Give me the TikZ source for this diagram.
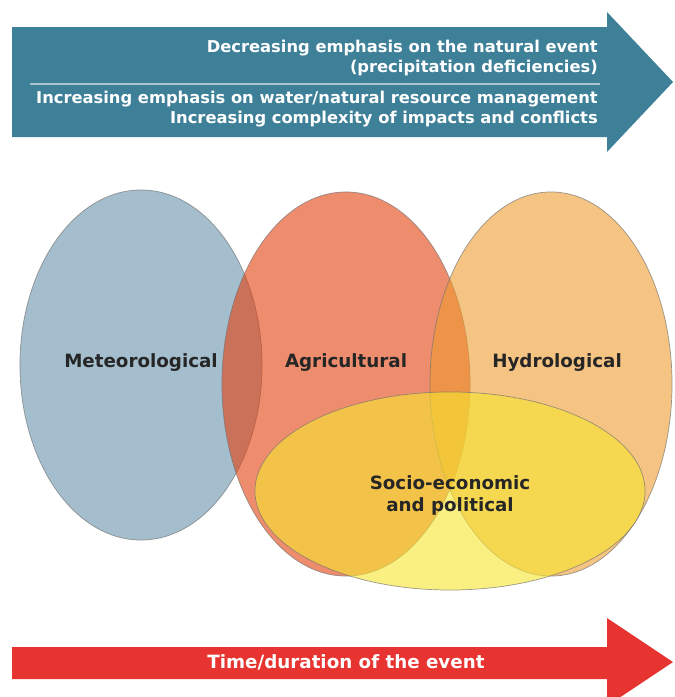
\documentclass[tikz,border=0pt]{standalone}
\usepackage{fontspec}
\setsansfont{DejaVu Sans}
\usetikzlibrary{shapes.geometric}

\definecolor{meteoblue}{RGB}{105,147,172}
\definecolor{agrired}{RGB}{227,63,13}
\definecolor{hydroorange}{RGB}{238,155,47}
\definecolor{socioyellow}{RGB}{247,230,47}
\definecolor{emphteal}{RGB}{61,128,152}
\definecolor{timered}{RGB}{232,52,48}

\begin{document}
\begin{tikzpicture}[x=0.025cm, y=-0.025cm,
            drought/.style = {ellipse, inner sep=0pt, draw=black!55, line width=0.5pt,
                              fill opacity=0.6, draw opacity=0.7},
            kind/.style    = {font=\sffamily\bfseries\fontsize{13}{15.6}\selectfont,
                              text=black!85, align=center},
            banner/.style  = {font=\sffamily\bfseries\fontsize{11.6}{14.5}\selectfont,
                              text=white, align=right, anchor=east, inner sep=0pt}
                        ]
            \useasboundingbox (0,0) rectangle (675,697);
            % emphasis arrow
            \fill[emphteal] (12,27) -- (607,27) -- (607,12) -- (673,82)
                            -- (607,152) -- (607,137) -- (12,137) -- cycle;
            \node[banner] (natural) at (598,58)
                {Decreasing emphasis on the natural event\\(precipitation deficiencies)};
            \node[banner] (management) at (598,109)
                {Increasing emphasis on water/natural resource management\\Increasing complexity of impacts and conflicts};
            \draw[emphteal!45!white, line width=1pt] (30,84) -- (600,84);
            % drought types
            \node[drought, fill=meteoblue,   minimum width=6.05cm, minimum height=8.75cm] (meteo) at (141,365) {};
            \node[drought, fill=agrired,     minimum width=6.2cm,  minimum height=9.6cm]  (agri)  at (346,384) {};
            \node[drought, fill=hydroorange, minimum width=6.05cm, minimum height=9.6cm]  (hydro) at (551,384) {};
            \node[drought, fill=socioyellow, minimum width=9.75cm, minimum height=4.95cm] (socio) at (450,491) {};
            \node[kind] (meteolabel) at (141,363) {Meteorological};
            \node[kind] (agrilabel)  at (346,363) {Agricultural};
            \node[kind] (hydrolabel) at (557,363) {Hydrological};
            \node[kind] (sociolabel) at (450,495) {Socio-economic\\and political};
            % time arrow
            \fill[timered] (12,647) -- (607,647) -- (607,618) -- (673,662)
                           -- (607,706) -- (607,679) -- (12,679) -- cycle;
            \node[font=\sffamily\bfseries\fontsize{13}{15}\selectfont, text=white] (time) at (346,662)
                {Time/duration of the event};
    \end{tikzpicture}
\end{document}
